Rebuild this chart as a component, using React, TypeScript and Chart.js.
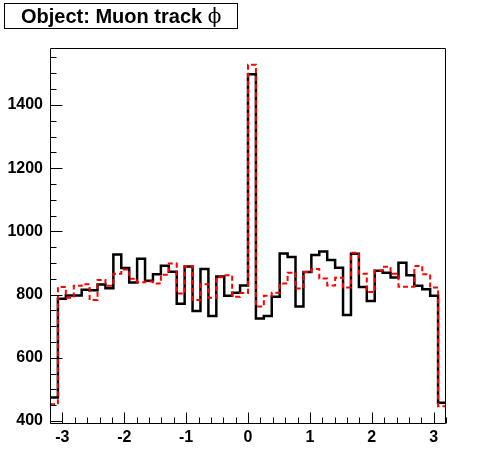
import React, { useEffect, useRef } from 'react';
import { Chart, registerables } from 'chart.js';

Chart.register(...registerables);

// Histogram: 50 bins over [-3.2, 3.2]
const xMin = -3.2;
const xMax = 3.2;

const blackCounts = [
  474, 787, 797, 797, 815, 814, 832, 820, 927, 884,
  838, 913, 844, 864, 891, 872, 771, 889, 748, 881,
  732, 857, 796, 806, 829, 1497, 724, 732, 793, 930,
  919, 762, 871, 925, 936, 909, 885, 735, 929, 824,
  780, 875, 869, 854, 901, 861, 828, 817, 796, 458,
];

const redCounts = [
  453, 824, 790, 828, 833, 783, 846, 828, 866, 879,
  850, 839, 841, 835, 863, 898, 803, 890, 783, 833,
  790, 855, 861, 793, 805, 1527, 762, 796, 806, 835,
  869, 819, 871, 881, 851, 829, 853, 822, 932, 866,
  808, 876, 888, 866, 825, 825, 890, 864, 822, 447,
];

const xTickValues = [-3, -2, -1, 0, 1, 2, 3];
const yTickValues = [400, 600, 800, 1000, 1200, 1400];
const xMinorStep = 0.2;
const yMinorStep = 50;
const yMin = 390.5;
const yMax = 1580;

const titleText = 'Object: Muon track';
const titleSymbol = 'ϕ';

function toSteps(counts: number[]) {
  const w = (xMax - xMin) / counts.length;
  const pts = counts.map((c, i) => ({ x: xMin + i * w, y: c }));
  pts.push({ x: xMax, y: counts[counts.length - 1] });
  return pts;
}

const framePlugin = {
  id: 'rootFrame',
  afterDatasetsDraw(chart: any) {
    const { ctx, chartArea } = chart;
    const xs = chart.scales.x;
    const ys = chart.scales.y;
    const L = Math.round(chartArea.left) + 0.5;
    const R = Math.round(chartArea.right) - 0.5;
    const T = Math.round(chartArea.top) + 0.5;
    const B = Math.round(chartArea.bottom) - 0.5;
    ctx.save();
    ctx.strokeStyle = '#000';
    ctx.lineWidth = 1;
    ctx.beginPath();
    ctx.rect(L, T, R - L, B - T);
    ctx.stroke();
    // x ticks (inward)
    ctx.beginPath();
    for (let v = xMin; v <= xMax + 1e-9; v += xMinorStep) {
      const isMajor = xTickValues.some((t) => Math.abs(t - v) < 1e-6);
      const px = Math.round(xs.getPixelForValue(v)) + 0.5;
      const len = isMajor ? 11 : 6;
      ctx.moveTo(px, B);
      ctx.lineTo(px, B - len);
    }
    // y ticks (inward)
    for (let v = yTickValues[0]; v <= yMax; v += yMinorStep) {
      const isMajor = yTickValues.includes(v);
      const py = Math.round(ys.getPixelForValue(v)) + 0.5;
      const len = isMajor ? 12 : 6;
      ctx.moveTo(L, py);
      ctx.lineTo(L + len, py);
    }
    ctx.stroke();
    ctx.restore();
  },
  afterDraw(chart: any) {
    const { ctx } = chart;
    ctx.save();
    ctx.fillStyle = '#fff';
    ctx.fillRect(4, 3, 234, 25);
    ctx.strokeStyle = '#000';
    ctx.lineWidth = 1;
    ctx.strokeRect(4.5, 3.5, 233, 25);
    ctx.fillStyle = '#000';
    ctx.font = "bold 20px 'Liberation Sans', Arial, sans-serif";
    ctx.textBaseline = 'alphabetic';
    ctx.textAlign = 'left';
    ctx.fillText(titleText, 21, 23);
    const w = ctx.measureText(titleText + ' ').width;
    ctx.font = "20px 'DejaVu Serif', serif";
    ctx.fillText(titleSymbol, 21 + w, 23);
    ctx.restore();
  },
};

export default function App() {
  const ref = useRef<HTMLCanvasElement>(null);
  useEffect(() => {
    if (!ref.current) return;
    const tickFont = { family: "'Liberation Sans', Arial, sans-serif", size: 16, weight: 'bold' as const };
    const chart = new Chart(ref.current, {
      type: 'line',
      data: {
        datasets: [
          {
            label: 'red',
            data: toSteps(redCounts),
            borderColor: '#ff0000',
            borderWidth: 2,
            borderDash: [5, 3],
            stepped: true,
            pointRadius: 0,
            fill: false,
            order: 0,
          },
          {
            label: 'black',
            data: toSteps(blackCounts),
            borderColor: '#000000',
            borderWidth: 2.5,
            stepped: true,
            pointRadius: 0,
            fill: false,
            order: 1,
          },
        ],
      },
      options: {
        animation: false,
        responsive: false,
        devicePixelRatio: 1,
        layout: { padding: { left: 0, right: 50, top: 48, bottom: 0 } },
        plugins: { legend: { display: false }, tooltip: { enabled: false }, title: { display: false } },
        scales: {
          x: {
            type: 'linear',
            min: xMin,
            max: xMax,
            grid: { display: false, drawTicks: false },
            border: { display: false },
            afterBuildTicks: (s: any) => { s.ticks = xTickValues.map((v) => ({ value: v })); },
            afterFit: (s: any) => { s.height = 48; },
            ticks: { color: '#000', font: tickFont, padding: 4, maxRotation: 0, autoSkip: false, callback: (v: any) => String(v) },
          },
          y: {
            type: 'linear',
            min: yMin,
            max: yMax,
            grid: { display: false, drawTicks: false },
            border: { display: false },
            afterBuildTicks: (s: any) => { s.ticks = yTickValues.map((v) => ({ value: v })); },
            afterFit: (s: any) => { s.width = 50; },
            ticks: { color: '#000', font: tickFont, padding: 7, autoSkip: false, callback: (v: any) => String(v) },
          },
        },
      },
      plugins: [framePlugin],
    });
    return () => chart.destroy();
  }, []);
  return (
    <div style={{ position: 'absolute', left: 0, top: 0, width: 496, height: 472, background: '#fff' }}>
      <canvas ref={ref} width={496} height={472} style={{ display: 'block' }} />
    </div>
  );
}
